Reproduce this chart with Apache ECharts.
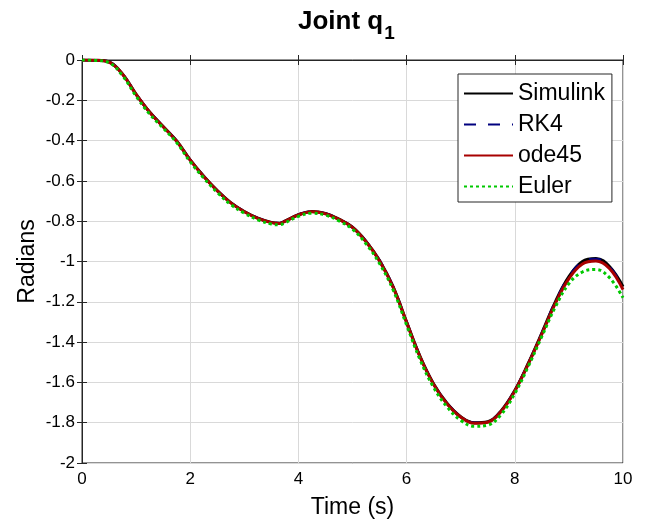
<!DOCTYPE html>
<html>
<head>
<meta charset="utf-8">
<script src="https://cdn.jsdelivr.net/npm/echarts@6/dist/echarts.min.js"></script>
<style>
  html, body { margin: 0; padding: 0; background: #fff; }
  #main { width: 646px; height: 526px; }
</style>
</head>
<body>
<div id="main"></div>
<script>
var myChart = echarts.init(document.getElementById('main'));

// time samples (s)
var time = [0, 0.25, 0.5, 0.75, 1, 1.25, 1.5, 1.75, 2, 2.25, 2.5, 2.75, 3, 3.25, 3.5, 3.65, 3.75, 4, 4.25, 4.5, 4.75,
  5, 5.25, 5.5, 5.75, 6, 6.25, 6.5, 6.75, 7, 7.25, 7.5, 7.75, 8, 8.25, 8.5, 8.75, 9, 9.25, 9.5, 9.75, 10];
var simulink = [0, -0.001, -0.010, -0.070, -0.170, -0.258, -0.330, -0.402, -0.496, -0.577, -0.648, -0.708, -0.752, -0.785, -0.806, -0.810, -0.800, -0.768, -0.752, -0.762, -0.790,
  -0.830, -0.900, -0.995, -1.125, -1.300, -1.472, -1.608, -1.705, -1.770, -1.800, -1.795, -1.740, -1.640, -1.505, -1.355, -1.200, -1.075, -1.000, -0.985, -1.025, -1.125];
var rk4 = [0, -0.001, -0.010, -0.070, -0.170, -0.258, -0.330, -0.402, -0.496, -0.577, -0.648, -0.708, -0.752, -0.785, -0.806, -0.810, -0.800, -0.768, -0.752, -0.762, -0.790,
  -0.830, -0.900, -0.995, -1.125, -1.300, -1.472, -1.608, -1.705, -1.770, -1.800, -1.795, -1.740, -1.640, -1.505, -1.355, -1.200, -1.077, -1.002, -0.987, -1.027, -1.128];
var ode45 = [0, -0.001, -0.011, -0.071, -0.171, -0.259, -0.331, -0.403, -0.497, -0.578, -0.649, -0.709, -0.753, -0.786, -0.807, -0.811, -0.801, -0.769, -0.753, -0.763, -0.791,
  -0.831, -0.902, -0.997, -1.127, -1.302, -1.474, -1.610, -1.707, -1.772, -1.803, -1.798, -1.743, -1.643, -1.508, -1.360, -1.208, -1.085, -1.012, -0.998, -1.035, -1.140];
var euler = [0, -0.002, -0.013, -0.078, -0.180, -0.268, -0.338, -0.410, -0.505, -0.586, -0.657, -0.717, -0.760, -0.793, -0.814, -0.818, -0.808, -0.776, -0.760, -0.770, -0.798,
  -0.840, -0.912, -1.010, -1.140, -1.315, -1.488, -1.625, -1.722, -1.788, -1.818, -1.812, -1.758, -1.655, -1.520, -1.372, -1.225, -1.110, -1.052, -1.040, -1.080, -1.180];

var seriesNames = ['Simulink', 'RK4', 'ode45', 'Euler'];

function pairs(vals) {
  return time.map(function (t, i) { return [t, vals[i]]; });
}

var font = 'Arial, "Liberation Sans", Helvetica, sans-serif';
var axisColor = '#262626';
var gridColor = '#d9d9d9';

option = {
  backgroundColor: '#fff',
  animation: false,
  textStyle: { fontFamily: font },
  title: {
    left: 298,
    top: 7,
    padding: 0,
    text: '{a|Joint q}{b|1}',
    textStyle: {
      rich: {
        a: { fontSize: 26, fontWeight: 'bold', color: '#000', fontFamily: font, lineHeight: 30 },
        b: { fontSize: 19, fontWeight: 'bold', color: '#000', fontFamily: font, lineHeight: 19, padding: [24, 0, 0, 1] }
      }
    }
  },
  legend: {
    orient: 'vertical',
    left: 458,
    top: 74,
    padding: [8, 7, 4, 5],
    itemWidth: 49,
    itemHeight: 14,
    itemGap: 8,
    backgroundColor: '#fff',
    borderColor: axisColor,
    borderWidth: 1,
    borderRadius: 0,
    // hide the marker circle, keep only the line sample
    itemStyle: { opacity: 0, borderWidth: 0 },
    data: seriesNames,
    textStyle: { fontSize: 23, color: '#000', lineHeight: 23, fontFamily: font }
  },
  grid: {
    left: 82,
    right: 23,
    top: 60,
    bottom: 63,
    show: true,
    borderColor: axisColor,
    borderWidth: 1
  },
  xAxis: [
    {
      type: 'value',
      min: 0,
      max: 10,
      interval: 2,
      name: 'Time (s)',
      nameLocation: 'middle',
      nameGap: 33,
      nameTextStyle: { fontSize: 23, color: '#000' },
      axisLine: { show: true, lineStyle: { color: axisColor, width: 1 } },
      axisTick: { show: true, inside: true, length: 5, lineStyle: { color: axisColor } },
      axisLabel: { fontSize: 17, color: '#000', margin: 8 },
      splitLine: { show: true, lineStyle: { color: gridColor, width: 1 } }
    },
    {
      type: 'value',
      position: 'top',
      min: 0,
      max: 10,
      interval: 2,
      axisLine: { show: true, lineStyle: { color: axisColor } },
      axisTick: { show: true, inside: true, length: 5, lineStyle: { color: axisColor } },
      axisLabel: { show: false },
      splitLine: { show: false }
    }
  ],
  yAxis: [
    {
      type: 'value',
      min: -2,
      max: 0,
      interval: 0.2,
      name: 'Radians',
      nameLocation: 'middle',
      nameGap: 43,
      nameMoveOverlap: false,
      nameTextStyle: { fontSize: 23, color: '#000' },
      axisLine: { show: true, lineStyle: { color: axisColor, width: 1 } },
      axisTick: { show: true, inside: true, length: 5, lineStyle: { color: axisColor } },
      axisLabel: { fontSize: 17, color: '#000', margin: 7 },
      splitLine: { show: true, lineStyle: { color: gridColor, width: 1 } }
    },
    {
      type: 'value',
      position: 'right',
      min: -2,
      max: 0,
      interval: 0.2,
      axisLine: { show: true, lineStyle: { color: axisColor } },
      axisTick: { show: true, inside: true, length: 5, lineStyle: { color: axisColor } },
      axisLabel: { show: false },
      splitLine: { show: false }
    }
  ],
  series: [
    {
      name: 'Simulink',
      type: 'line',
      smooth: 0.4,
      symbol: 'none',
      data: pairs(simulink),
      lineStyle: { color: '#000', width: 3 },
      itemStyle: { color: '#000' }
    },
    {
      name: 'RK4',
      type: 'line',
      smooth: 0.4,
      symbol: 'none',
      data: pairs(rk4),
      lineStyle: { color: '#00007f', width: 2.5, type: [12, 12] },
      itemStyle: { color: '#00007f' }
    },
    {
      name: 'ode45',
      type: 'line',
      smooth: 0.4,
      symbol: 'none',
      data: pairs(ode45),
      lineStyle: { color: '#a80000', width: 3 },
      itemStyle: { color: '#a80000' }
    },
    {
      name: 'Euler',
      type: 'line',
      smooth: 0.4,
      symbol: 'none',
      data: pairs(euler),
      lineStyle: { color: '#00c800', width: 3, type: [3, 3] },
      itemStyle: { color: '#00c800' }
    }
  ]
};

myChart.setOption(option);
window.onresize = function () {
  myChart.resize();
};
</script>
</body>
</html>
